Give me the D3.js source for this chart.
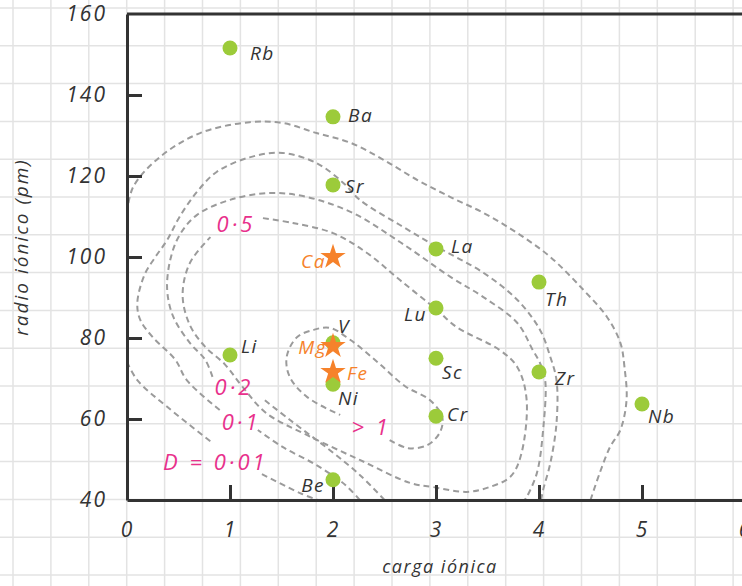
<script src="https://d3js.org/d3.v7.min.js"></script>

<div id="graph"></div>

<script>

// Data: ionic charge vs ionic radius (pm)
var elements = ['Rb', 'Ba', 'Sr', 'La', 'Lu', 'Sc', 'Cr', 'Th', 'Zr', 'Nb', 'Li', 'Be', 'Ni', 'V']
var charges  = [1, 2, 2, 3, 3, 3, 3, 4, 4, 5, 1, 2, 2, 2]
var radii    = [151.6, 134.6, 117.8, 102, 87.4, 75, 60.7, 93.8, 71.6, 63.7, 75.8, 45, 68.6, 78.8]

var hostIons    = ['Ca', 'Mg', 'Fe']
var hostCharges = [2, 2, 2]
var hostRadii   = [100, 78, 71.6]

var xTicks = [0, 1, 2, 3, 4, 5, 6]
var yTicks = [40, 60, 80, 100, 120, 140, 160]

// Contour lines of D, [charge, radius]; null = gap for a label
var contour001 = [[0,110.9],[0.06,117.3],[0.32,124.7],[0.71,130.6],[1.19,133.3],[1.51,133.1],[1.84,130.6],[2.17,128.2],[2.49,124.0],[2.82,119.0],[3.14,114.8],[3.46,110.9],[3.79,105.9],[4.11,100.0],[4.43,91.9],[4.66,85.2],[4.79,78.8],[4.83,72.8],[4.85,64.7],[4.79,57.3],[4.69,53.1],[4.59,46.7],[4.50,40],
  null, [0,74.1],[0.10,69.6],[0.39,63.0],[0.83,54.1], null, [1.31,46.4],[1.68,41.7],[1.85,40]]
var contour01 = [[2.26,40],[2.12,43.7],[1.84,48.6],[1.51,53.1],[1.27,57.3], null,
  [0.90,62.2],[0.58,69.6],[0.47,74.6],[0.25,80.2],[0.13,84.4],[0.10,88.6],[0.17,95.6],[0.27,99.8],[0.39,104.2],[0.51,109.9],[0.68,116.1],[0.87,121.0],[1.19,124.6],[1.51,125.7],[1.84,123.2],[2.10,118.3],[2.26,114.1],[2.65,107.9],[3.01,102.5],[3.46,96.1],[3.79,89.4],[4.01,82.0],[4.11,75.3],[4.17,69.6],[4.17,59.0],[4.11,49.1],[4.04,42.5],[4.02,40]]
var contour02 = [[2.50,40],[2.26,46.2],[1.97,52.3],[1.58,59.8],[1.31,65.2], null,
  [0.83,70.4],[0.76,74.6],[0.61,78.8],[0.45,85.2],[0.39,91.9],[0.42,99.3],[0.51,105.4],[0.68,110.4],[1.0,114.1],[1.39,115.8],[1.75,114.8],[2.19,110.9],[2.65,103.7],[3.14,95.1],[3.46,90.1],[3.79,83.7],[3.94,77.0],[4.01,73.8],[4.06,69.6],[4.04,57.3],[3.98,46.7],[3.88,40.7],[3.86,40]]
var contour05 = [[1.32,109.6],[1.61,108.4],[2.0,105.9],[2.33,101.0],[2.65,94.3],[3.01,86.9],[3.20,82.7],[3.62,77.0],[3.79,72.8],[3.88,64.7],[3.82,50.6],[3.72,45.7],[3.52,43.2],[3.30,42.0],[2.97,43.2],[2.75,44.2],[2.26,49.9],[1.75,56.0],[1.35,61.5],[1.12,68.0],[0.95,73.5],[0.76,77.8],[0.61,83.2],[0.54,90.6],[0.61,98.5],[0.81,104.9]]
var contour1 = [[2.55,54.8],[2.73,52.8],[2.92,53.6],[3.04,56.8],[3.06,60.5],[2.94,64.7],[2.70,68.1],[2.43,74.1],[2.17,79.5],[1.97,82.5],[1.81,82.0],[1.65,80.2],[1.55,75.3],[1.58,70.4],[1.75,65.4],[2.07,61.0]]

var contourLabels = ['0·5', '0·2', '0·1', 'D = 0·01', '> 1']
var contourLabelX = [0.87, 0.85, 0.92, 0.35, 2.18]
var contourLabelY = [106.2, 65.9, 57.3, 47.4, 56.0]

// Label offsets in pixels [dx, dy, anchor]
var offsets = {
  Rb: [20, 12, 'start'], Ba: [15, 5, 'start'], Sr: [12, 8, 'start'],
  La: [15, 4, 'start'], Lu: [-9, 13, 'end'], Sc: [6, 21, 'start'],
  Cr: [11, 5, 'start'], Th: [6, 24, 'start'], Zr: [16, 13, 'start'],
  Nb: [6, 19, 'start'], Li: [11, -2, 'start'], Be: [-8, 12, 'end'],
  Ni: [5, 21, 'start'], V: [5, -10, 'start'],
  Ca: [-7, 11, 'end'], Mg: [-6, 8, 'end'], Fe: [14, 8, 'start']
}

var W = 742, H = 586
var font = "'Open Sans', sans-serif"
var ink = '#333333'
var green = '#9ccb3a'
var orange = '#f6822b'
var pink = '#e8318c'

var svg = d3.select('#graph')
  .append('svg')
  .attr('width', W)
  .attr('height', H)
  .style('display', 'block')

d3.select('body').style('margin', 0)

// Graph paper background
svg.append('rect').attr('width', W).attr('height', H).attr('fill', 'white')

svg.append('g')
  .selectAll('line')
  .data(d3.range(0, 20))
  .join('line')
  .attr('x1', function(d) { return 13 + d * 37.9 })
  .attr('x2', function(d) { return 13 + d * 37.9 })
  .attr('y1', 0).attr('y2', H)
  .attr('stroke', '#e3e3e3').attr('stroke-width', 1.5)

svg.append('g')
  .selectAll('line')
  .data(d3.range(0, 16))
  .join('line')
  .attr('y1', function(d) { return 8 + d * 37.8 })
  .attr('y2', function(d) { return 8 + d * 37.8 })
  .attr('x1', 0).attr('x2', W)
  .attr('stroke', '#e3e3e3').attr('stroke-width', 1.5)

// Scales
var x = d3.scaleLinear().domain([0, 6]).range([127, 745])
var y = d3.scaleLinear().domain([40, 160]).range([500, 14])

// Contours
svg.append('clipPath').attr('id', 'plot')
  .append('rect').attr('x', 127).attr('y', 14).attr('width', W - 127).attr('height', 486)

var line = d3.line()
  .defined(function(d) { return d !== null })
  .x(function(d) { return x(d[0]) })
  .y(function(d) { return y(d[1]) })
  .curve(d3.curveCatmullRom)

var contours = svg.append('g').attr('clip-path', 'url(#plot)')

contours.selectAll('path')
  .data([contour001, contour01, contour02, contour05, contour1])
  .join('path')
  .attr('d', function(d) { return line(d) })
  .attr('fill', 'none')
  .attr('stroke', '#9b9b9b')
  .attr('stroke-width', 2)
  .attr('stroke-dasharray', '6,4')

// Contour labels
svg.append('g')
  .selectAll('text')
  .data(contourLabels)
  .join('text')
  .attr('x', function(d, i) { return x(contourLabelX[i]) })
  .attr('y', function(d, i) { return y(contourLabelY[i]) })
  .attr('font-family', font)
  .attr('font-style', 'italic')
  .attr('font-size', 22)
  .attr('letter-spacing', 3)
  .attr('fill', pink)
  .text(function(d) { return d })

// Axes
var yAxis = svg.append('g')
  .attr('transform', 'translate(127,0)')
  .call(d3.axisLeft(y).tickValues(yTicks).tickFormat(d3.format('d'))
    .tickSizeInner(-15).tickSizeOuter(0).tickPadding(20))

var xAxis = svg.append('g')
  .attr('transform', 'translate(0,500)')
  .call(d3.axisBottom(x).tickValues(xTicks).tickFormat(d3.format('d'))
    .tickSizeInner(-15).tickSizeOuter(0).tickPadding(22))

yAxis.selectAll('.tick').filter(function(d) { return d == 40 || d == 160 }).select('line').remove()
xAxis.selectAll('.tick').filter(function(d) { return d == 0 || d == 6 }).select('line').remove()

svg.selectAll('.domain, .tick line').attr('stroke', ink).attr('stroke-width', 3)
svg.selectAll('.tick text')
  .attr('font-family', font)
  .attr('font-style', 'italic')
  .attr('font-size', 21)
  .attr('letter-spacing', 2)
  .attr('fill', ink)

// Top frame line
svg.append('line')
  .attr('x1', 127).attr('x2', W)
  .attr('y1', y(160)).attr('y2', y(160))
  .attr('stroke', ink).attr('stroke-width', 3)

// Axis titles
svg.append('text')
  .attr('x', 440).attr('y', 573)
  .attr('text-anchor', 'middle')
  .attr('font-family', font).attr('font-style', 'italic')
  .attr('font-size', 18).attr('letter-spacing', 1.5)
  .attr('fill', ink)
  .text('carga iónica')

svg.append('text')
  .attr('transform', 'translate(28,247) rotate(-90)')
  .attr('text-anchor', 'middle')
  .attr('font-family', font).attr('font-style', 'italic')
  .attr('font-size', 19).attr('letter-spacing', 2)
  .attr('fill', ink)
  .text('radio iónico (pm)')

// Trace elements
svg.append('g')
  .selectAll('circle')
  .data(elements)
  .join('circle')
  .attr('cx', function(d, i) { return x(charges[i]) })
  .attr('cy', function(d, i) { return y(radii[i]) })
  .attr('r', 7.5)
  .attr('fill', green)

svg.append('g')
  .selectAll('text')
  .data(elements)
  .join('text')
  .attr('x', function(d, i) { return x(charges[i]) + offsets[d][0] })
  .attr('y', function(d, i) { return y(radii[i]) + offsets[d][1] })
  .attr('text-anchor', function(d) { return offsets[d][2] })
  .attr('font-family', font).attr('font-style', 'italic')
  .attr('font-size', 19).attr('letter-spacing', 1.5)
  .attr('fill', ink)
  .text(function(d) { return d })

// Host ions (stars)
svg.append('g')
  .selectAll('path')
  .data(hostIons)
  .join('path')
  .attr('d', d3.symbol(d3.symbolStar, 200))
  .attr('transform', function(d, i) { return `translate(${x(hostCharges[i])},${y(hostRadii[i])})` })
  .attr('fill', orange)

svg.append('g')
  .selectAll('text')
  .data(hostIons)
  .join('text')
  .attr('x', function(d, i) { return x(hostCharges[i]) + offsets[d][0] })
  .attr('y', function(d, i) { return y(hostRadii[i]) + offsets[d][1] })
  .attr('text-anchor', function(d) { return offsets[d][2] })
  .attr('font-family', font).attr('font-style', 'italic')
  .attr('font-size', 19).attr('letter-spacing', 1.5)
  .attr('fill', orange)
  .text(function(d) { return d })

</script>
